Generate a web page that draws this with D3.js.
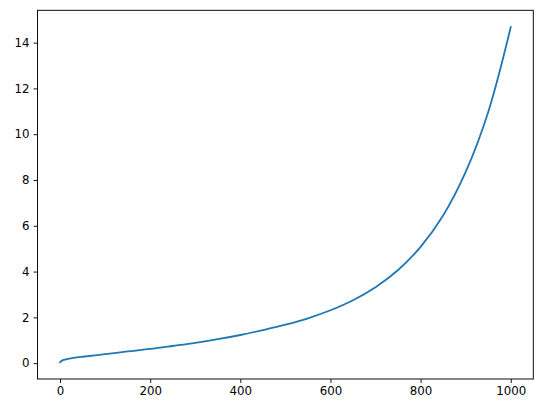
<!DOCTYPE html>
<html>
<head>
<meta charset="utf-8">
<script src="https://cdn.jsdelivr.net/npm/d3@7"></script>
<style>
  html, body { margin: 0; padding: 0; background: #fff; }
  svg { display: block; }
</style>
</head>
<body>
<svg id="chart" width="543" height="413"></svg>
<script>
// Values
const xValues = [0, 3, 8, 15, 30, 50, 100, 150, 200, 250, 300, 350, 400, 450, 500, 550, 600, 650, 700, 750, 800, 850, 900, 950, 1000];
const yValues = [0.04, 0.09, 0.14, 0.18, 0.23, 0.28, 0.39, 0.51, 0.62, 0.75, 0.885, 1.045, 1.23, 1.445, 1.68, 1.96, 2.31, 2.75, 3.32, 4.07, 5.08, 6.45, 8.35, 10.97, 14.68];
const xTicks = [0, 200, 400, 600, 800, 1000];
const yTicks = [0, 2, 4, 6, 8, 10, 12, 14];

(function () {
  const data = xValues.map((x, i) => ({ x, y: yValues[i] }));

  const svg = d3.select("#chart");
  const mLeft = 37.5, mRight = 533.3, mTop = 10.3, mBottom = 379;

  const xExt = d3.extent(xValues), yExt = d3.extent(yValues);
  const xPad = (xExt[1] - xExt[0]) * 0.05, yPad = (yExt[1] - yExt[0]) * 0.05;

  const x = d3.scaleLinear().domain([xExt[0] - xPad, xExt[1] + xPad]).range([mLeft, mRight]);
  const y = d3.scaleLinear().domain([yExt[0] - yPad, yExt[1] + yPad]).range([mBottom, mTop]);

  const font = "DejaVu Sans, sans-serif";

  const line = d3.line().x(d => x(d.x)).y(d => y(d.y)).curve(d3.curveCatmullRom.alpha(0.5));
  svg.append("path")
    .datum(data)
    .attr("d", line)
    .attr("fill", "none")
    .attr("stroke", "#1f77b4")
    .attr("stroke-width", 1.8)
    .attr("stroke-linecap", "square");

  const xAxis = svg.append("g")
    .attr("transform", `translate(0,${mBottom})`)
    .call(d3.axisBottom(x).tickValues(xTicks).tickSize(4).tickPadding(4).tickFormat(d3.format("d")));
  const yAxis = svg.append("g")
    .attr("transform", `translate(${mLeft},0)`)
    .call(d3.axisLeft(y).tickValues(yTicks).tickSize(4).tickPadding(4).tickFormat(d3.format("d")));

  [xAxis, yAxis].forEach(g => {
    g.select(".domain").remove();
    g.selectAll(".tick line").attr("stroke", "#000").attr("stroke-width", 0.9);
    g.selectAll(".tick text").attr("fill", "#000").style("font-family", font).style("font-size", "11.8px");
  });

  svg.append("rect")
    .attr("x", mLeft).attr("y", mTop)
    .attr("width", mRight - mLeft).attr("height", mBottom - mTop)
    .attr("fill", "none").attr("stroke", "#000").attr("stroke-width", 0.95);
})();
</script>
</body>
</html>
